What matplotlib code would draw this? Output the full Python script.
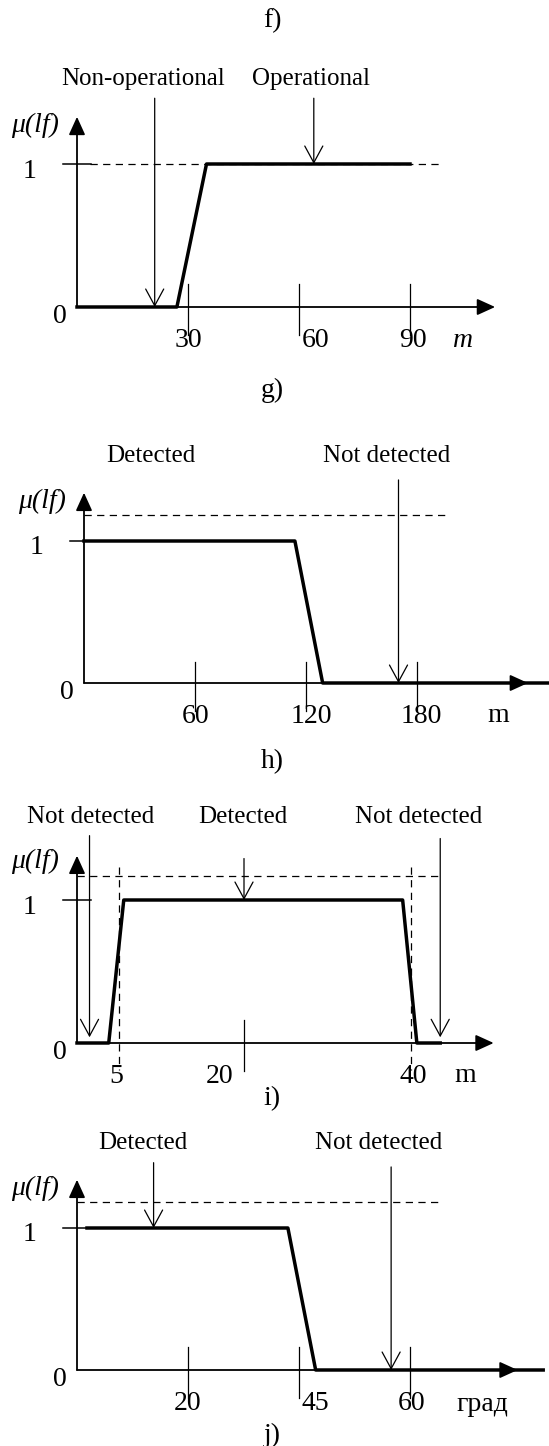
import matplotlib.pyplot as plt

plt.rcParams['font.family'] = ['Liberation Serif', 'DejaVu Serif']

W, H = 549, 1446

captions = ['f)', 'g)', 'h)', 'i)', 'j)']

# g) distance, m
g_tick_x = [30, 60, 90]
g_tick_lab = ['30', '60', '90']
g_curve_x = [0, 27, 35, 90]
g_curve_y = [0, 0, 1, 1]
g_terms = ['Non-operational', 'Operational']
g_arrow_x = [21, 64]
g_arrow_to = [0, 1]
g_dash_y = 1

# h) range, m
h_tick_x = [60, 120, 180]
h_tick_lab = ['60', '120', '180']
h_curve_x = [0, 114, 129, 251]
h_curve_y = [1, 1, 0, 0]
h_terms = ['Detected', 'Not detected']
h_arrow_x = [170]
h_arrow_to = [0]
h_dash_y = 1.18

# i) height, m
i_tick_x = [5, 20, 40]
i_tick_lab = ['5', '20', '40']
i_curve_x = [0, 3.8, 5.6, 39, 40.7, 43.5]
i_curve_y = [0, 0, 1, 1, 0, 0]
i_terms = ['Not detected', 'Detected', 'Not detected']
i_arrow_x = [1.5, 20, 43.5]
i_arrow_to = [0.04, 1, 0.04]
i_bounds = [5, 40]
i_dash_y = 1.17

# j) angle, град -- ticks drawn evenly spaced, so x here is in tick steps
j_tick_x = [1, 2, 3]
j_tick_lab = ['20', '45', '60']
j_curve_x = [0.09, 1.9, 2.15, 4.2]
j_curve_y = [1, 1, 0, 0]
j_terms = ['Detected', 'Not detected']
j_arrow_x = [0.69, 2.83]
j_arrow_to = [1, 0]
j_dash_y = 1.18

fig = plt.figure(figsize=(W / 100, H / 100), dpi=100)

AXIS = dict(arrowstyle='-|>,head_length=1.1,head_width=0.5', lw=1.3, color='k',
            shrinkA=0, shrinkB=0, mutation_scale=10)
POINT = dict(arrowstyle='->,head_length=1.2,head_width=0.65', lw=0.9, color='k',
             shrinkA=0, shrinkB=0, mutation_scale=10)
DASH = dict(color='k', lw=0.9, dashes=(5.8, 4.3))


def ptext(x, y, s, size=20, **kw):
    # text placed in figure pixels (y from the top), baseline aligned
    fig.text(x / W, 1 - y / H, s, size=size, ha='center', va='baseline', **kw)


def panel(ox, oy, sx, sy, xend, ytop):
    ax = fig.add_axes([0, 0, 1, 1])
    ax.set_xlim(-ox / sx, (W - ox) / sx)
    ax.set_ylim(-(H - oy) / sy, oy / sy)
    ax.axis('off')
    ax.patch.set_alpha(0)
    ax.annotate('', xy=(xend, 0), xytext=(0, 0), arrowprops=AXIS)
    ax.annotate('', xy=(0, ytop), xytext=(0, 0), arrowprops=AXIS)
    ax.plot([-14 / sx, 14 / sx], [1, 1], color='k', lw=1.1)
    ptext(ox - 42, oy - 175, 'μ(lf)', style='italic')
    ptext(ox - 47, oy - 129, '1')
    ptext(ox - 17, oy + 16, '0')
    return ax


def xticks(ax, sy, xs, labels, shifts, up=23, down=28):
    for x, lab, dx in zip(xs, labels, shifts):
        ax.plot([x, x], [up / sy, -down / sy], color='k', lw=0.9)
        ax.annotate(lab, xy=(x, 0), xytext=(dx, -40), textcoords='offset pixels',
                    ha='center', va='baseline', size=20)


def pointers(ax, xs, tos, tops):
    for x, y1, y0 in zip(xs, tos, tops):
        ax.annotate('', xy=(x, y1), xytext=(x, y0), arrowprops=POINT)


# captions
for cap, y in zip(captions, [27, 397, 768, 1105, 1442]):
    ptext(272, y, cap)

# ---- g) ----
sy = 143
ax = panel(77, 307, 3.7, sy, 113, 1.33)
ax.plot([3.5, 98.4], [g_dash_y, g_dash_y], **DASH)
ax.plot(g_curve_x, g_curve_y, color='k', lw=2.5)
xticks(ax, sy, g_tick_x, g_tick_lab, [0, 17, 3])
pointers(ax, g_arrow_x, g_arrow_to, [1.46, 1.46])
ptext(463, 347, 'm', style='italic')
for t, x in zip(g_terms, [143, 311]):
    ptext(x, 85, t, size=18)

# ---- h) ----
sy = 142
ax = panel(84, 683, 1.85, sy, 240, 1.34)
ax.plot([0, 197], [h_dash_y, h_dash_y], **DASH)
ax.plot(h_curve_x, h_curve_y, color='k', lw=2.5)
xticks(ax, sy, h_tick_x, h_tick_lab, [1, 5, 4], up=21)
pointers(ax, h_arrow_x, h_arrow_to, [1.43])
ptext(498, 722, 'm')
for t, x in zip(h_terms, [151, 387]):
    ptext(x, 462, t, size=18)

# ---- i) ----
sy = 143
ax = panel(77, 1043, 8.35, sy, 49.9, 1.31)
ax.plot([0, 43.5], [i_dash_y, i_dash_y], **DASH)
for b in i_bounds:
    ax.plot([b, b], [1.23, -0.19], **DASH)
ax.plot(i_curve_x, i_curve_y, color='k', lw=2.5)
xticks(ax, sy, [i_tick_x[1]], [''], [0])
for x, lab, dx in zip(i_tick_x, i_tick_lab, [-3, -24, 2]):
    ax.annotate(lab, xy=(x, 0), xytext=(dx, -40), textcoords='offset pixels',
                ha='center', va='baseline', size=20)
pointers(ax, i_arrow_x, i_arrow_to, [1.45, 1.29, 1.43])
ptext(465, 1082, 'm')
for t, x in zip(i_terms, [91, 243, 419]):
    ptext(x, 823, t, size=18)

# ---- j) ----
sy = 142
ax = panel(77, 1370, 111, sy, 3.97, 1.34)
ax.plot([0, 3.28], [j_dash_y, j_dash_y], **DASH)
ax.plot(j_curve_x, j_curve_y, color='k', lw=2.5)
xticks(ax, sy, j_tick_x, j_tick_lab, [0, 16, 2])
pointers(ax, j_arrow_x, j_arrow_to, [1.46, 1.43])
ptext(482, 1411, 'град')
for t, x in zip(j_terms, [143, 379]):
    ptext(x, 1149, t, size=18)

plt.savefig('out.png', dpi=100)
